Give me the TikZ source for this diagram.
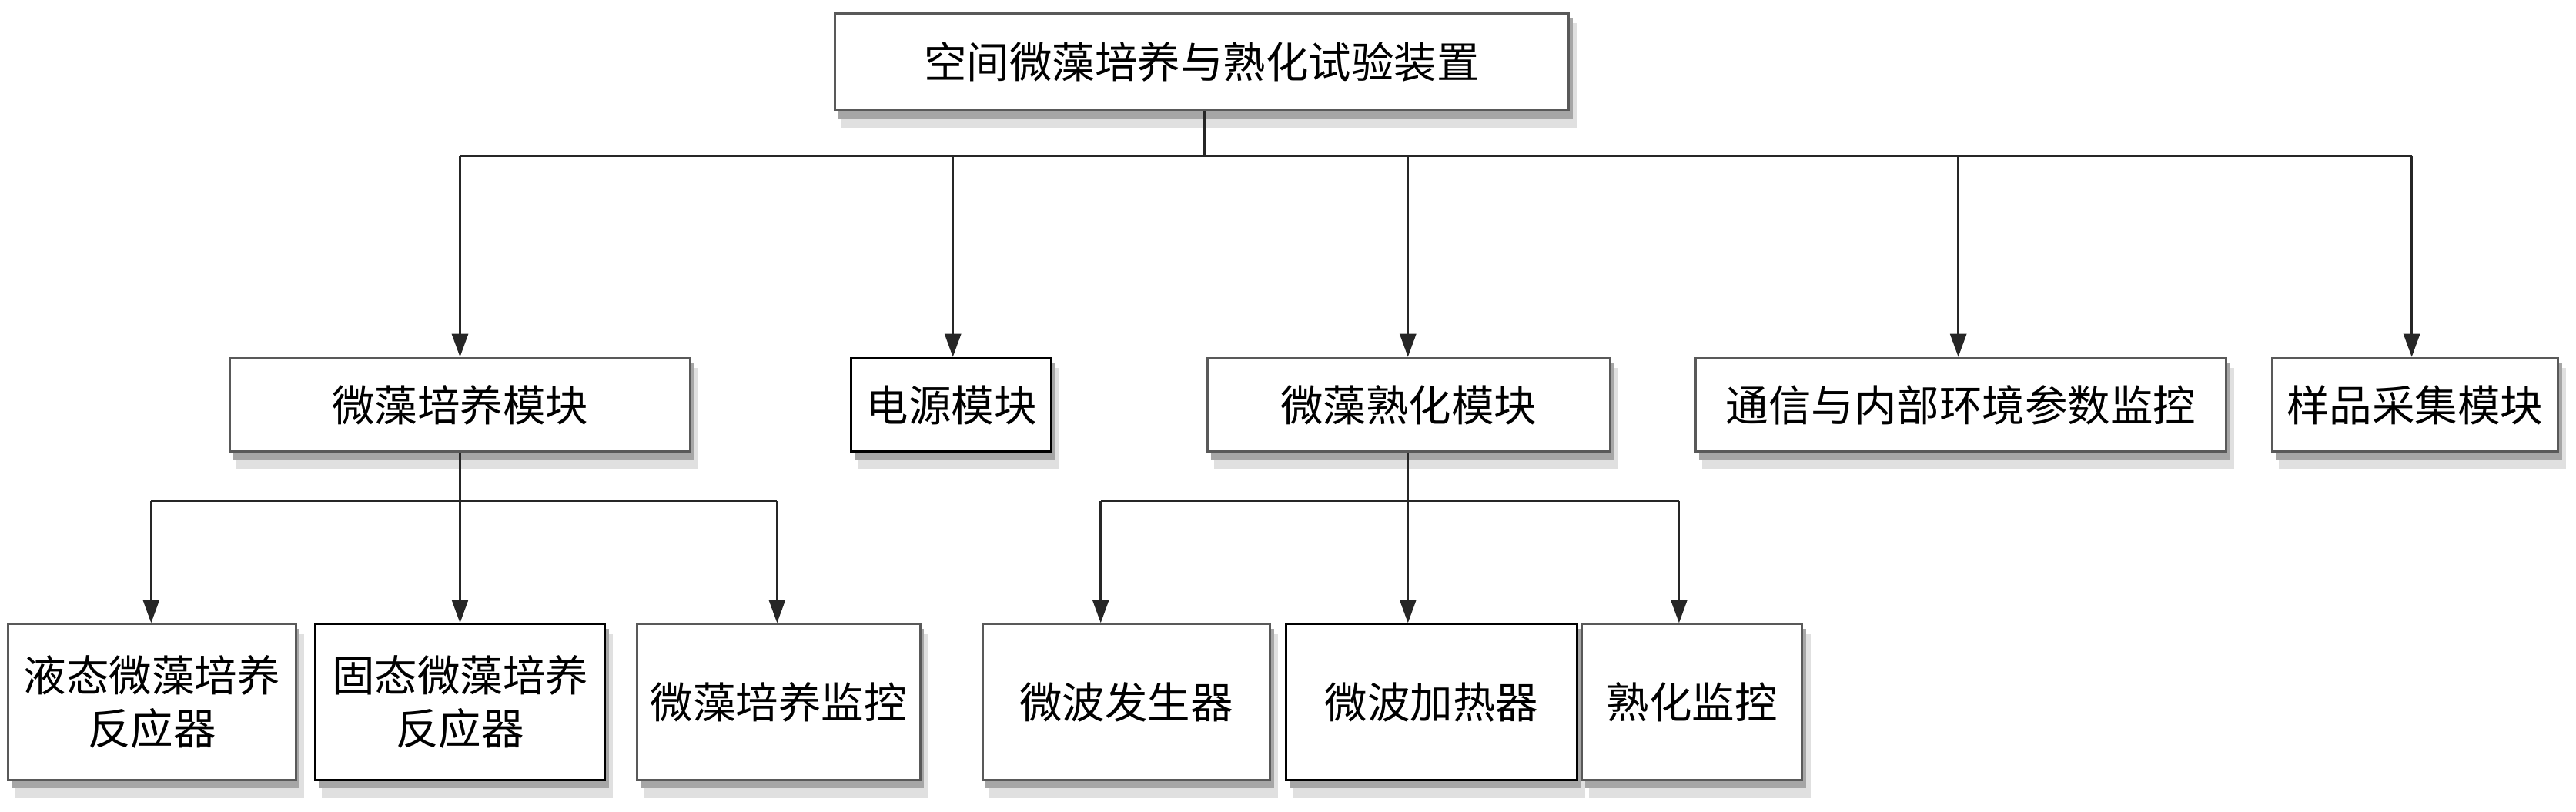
\documentclass[tikz,border=0pt]{standalone}
\usepackage{fontspec}
\newfontfamily\cjk{Noto Sans CJK SC}
\usetikzlibrary{arrows.meta}
\begin{document}
\begin{tikzpicture}[x=0.5mm,y=-0.5mm,
  box/.style={draw=black!65,line width=2pt,fill=white,inner sep=0pt,
    font=\cjk\fontsize{37}{46}\selectfont,align=center},
  boxk/.style={box,draw=black},
  shadlight/.style={fill=black!12},
  shaddark/.style={fill=black!35},
  conn/.style={line width=2pt,draw=black!85},
  arr/.style={conn,-{Triangle[length=20pt,width=14pt]}}]
\useasboundingbox[fill=white] (0,0) rectangle (1568,494);
\newcommand\bx[7]{%
  \fill[shadlight] (#3+4,#5+6) rectangle (#4+5,#6+11);
  \fill[shaddark] (#3+2,#5+3) rectangle (#4+2.5,#6+5);
  \node[#1,minimum width={(#4-#3)*0.5mm},minimum height={(#6-#5)*0.5mm}] (#2) at ({(#3+#4)/2},{(#5+#6)/2}) {#7};}
\bx{box}{top}{508}{955}{8}{67}{空间微藻培养与熟化试验装置}
\bx{box}{cult}{140}{420}{218}{275}{微藻培养模块}
\bx{boxk}{power}{518}{640}{218}{275}{电源模块}
\bx{box}{mat}{735}{980}{218}{275}{微藻熟化模块}
\bx{box}{comm}{1032}{1355}{218}{275}{通信与内部环境参数监控}
\bx{box}{samp}{1383}{1557}{218}{275}{样品采集模块}
\bx{box}{liq}{5}{180}{380}{475}{液态微藻培养\\反应器}
\bx{boxk}{sol}{192}{368}{380}{475}{固态微藻培养\\反应器}
\bx{box}{cmon}{388}{560}{380}{475}{微藻培养监控}
\bx{box}{mgen}{598}{773}{380}{475}{微波发生器}
\bx{boxk}{mheat}{783}{960}{380}{475}{微波加热器}
\bx{box}{mmon}{963}{1097}{380}{475}{熟化监控}
\coordinate (b1) at (733,95);
\coordinate (b1l) at (280,95);
\coordinate (b1r) at (1468,95);
\coordinate (b2) at (280,305);
\coordinate (b2l) at (92,305);
\coordinate (b2r) at (473,305);
\coordinate (b3) at (857,305);
\coordinate (b3l) at (670,305);
\coordinate (b3r) at (1022,305);
\draw[conn] (top.south -| b1) -- (b1);
\draw[conn] (b1l) -- (b1r);
\draw[arr] (b1l) -- (cult.north -| b1l);
\draw[arr] (580,95) -- (power.north -| 580,0);
\draw[arr] (857,95) -- (mat.north -| 857,0);
\draw[arr] (1192,95) -- (comm.north -| 1192,0);
\draw[arr] (b1r) -- (samp.north -| b1r);
\draw[conn] (cult.south -| b2) -- (b2);
\draw[conn] (b2l) -- (b2r);
\draw[arr] (b2l) -- (liq.north -| b2l);
\draw[arr] (b2) -- (sol.north -| b2);
\draw[arr] (b2r) -- (cmon.north -| b2r);
\draw[conn] (mat.south -| b3) -- (b3);
\draw[conn] (b3l) -- (b3r);
\draw[arr] (b3l) -- (mgen.north -| b3l);
\draw[arr] (b3) -- (mheat.north -| b3);
\draw[arr] (b3r) -- (mmon.north -| b3r);
\end{tikzpicture}
\end{document}
